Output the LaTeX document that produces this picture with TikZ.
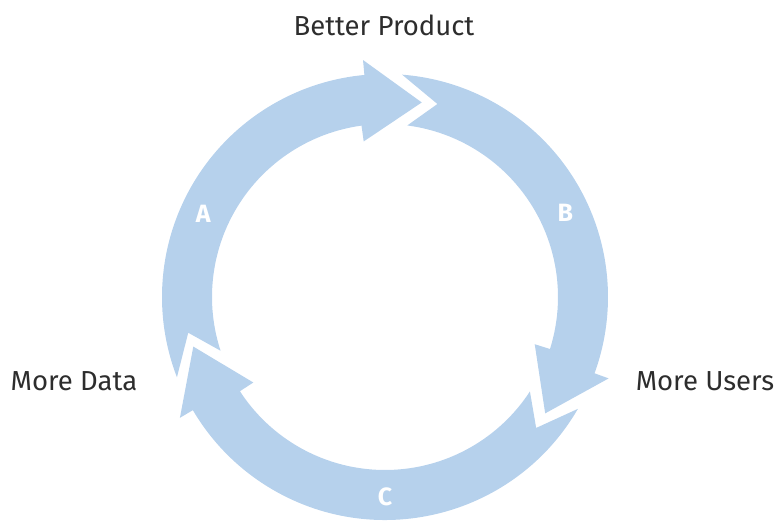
\documentclass[tikz,border=0pt]{standalone}
\usepackage{fontspec}
\setmainfont{Fira Sans}
\definecolor{ringblue}{RGB}{182,209,236}
\definecolor{labelgray}{RGB}{45,45,45}
\begin{document}
\begin{tikzpicture}[ring arrow/.style={fill=ringblue,draw=none},
  ring label/.style={text=white,font=\bfseries\fontsize{25}{28}\selectfont},
  side label/.style={text=labelgray,font=\fontsize{27.5}{30}\selectfont}]
\useasboundingbox (-385pt,-225pt) rectangle (392pt,297pt);
% three curved arrows, tip angle / tail notch angle
\foreach \p/\n in {79.3/190.3, -36/74.8, -165.5/-40.9}
  \fill[ring arrow] ({\n+10.8}:223pt) arc[start angle=\n+10.8, end angle=\p+16, radius=223pt]
    -- ({\p+16}:238pt) -- (\p:198pt) -- ({\p+18.5}:157pt) -- ({\p+18.5}:173pt)
    arc[start angle=\p+18.5, end angle=\n+7.8, radius=173pt] -- (\n:200pt) -- cycle;
\begin{scope}[every node/.style={ring label}]
\node (lA) at (155.3:200pt) {A};
\node (lB) at (25:199pt) {B};
\node (lC) at (-90:200pt) {C};
\end{scope}
\begin{scope}[every node/.style={side label}]
\node (bp) at (-1pt,272pt) {Better Product};
\node (md) at (-311pt,-84pt) {More Data};
\node (mu) at (320pt,-84pt) {More Users};
\end{scope}
\end{tikzpicture}
\end{document}
